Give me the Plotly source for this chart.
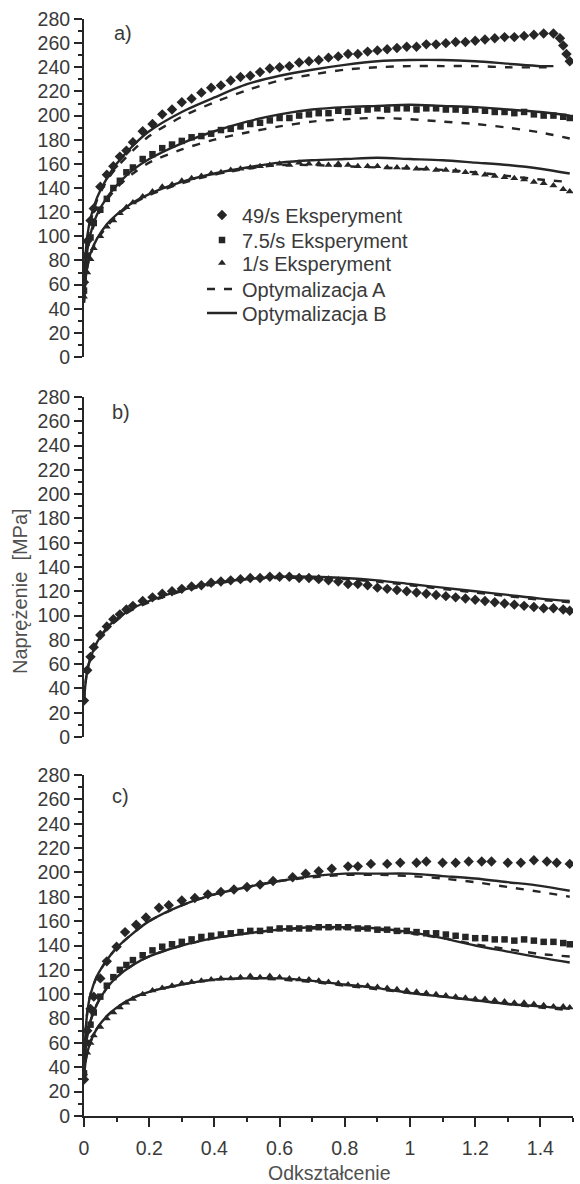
import plotly.graph_objects as go

# ---------------------------------------------------------------- data
# strain grid shared by most experimental series
STRAIN_EXP = [0.0, 0.01, 0.02, 0.03, 0.05, 0.07, 0.09, 0.11, 0.13, 0.15,
              0.18, 0.21, 0.24, 0.27, 0.30, 0.33, 0.36, 0.39, 0.42, 0.45,
              0.48, 0.51, 0.54, 0.57, 0.60, 0.63, 0.66, 0.69, 0.72, 0.75,
              0.78, 0.81, 0.84, 0.87, 0.90, 0.93, 0.96, 0.99, 1.02, 1.05,
              1.08, 1.11, 1.14, 1.17, 1.20, 1.23, 1.26, 1.29, 1.32, 1.35,
              1.38, 1.41, 1.44, 1.47, 1.49]

# strain grid of the model curves
STRAIN_FIT = [0.0, 0.005, 0.01, 0.02, 0.04, 0.07, 0.1, 0.15, 0.2, 0.3, 0.4,
              0.5, 0.6, 0.7, 0.8, 0.9, 1.0, 1.1, 1.2, 1.3, 1.4, 1.49]
STRAIN_FIT_A49 = [0.0, 0.005, 0.01, 0.02, 0.04, 0.07, 0.1, 0.15, 0.2, 0.3, 0.4,
                  0.5, 0.6, 0.7, 0.8, 0.9, 1.0, 1.1, 1.2, 1.3, 1.4, 1.44]

# panel a)
STRAIN_A49_EXP = [0.0, 0.01, 0.02, 0.03, 0.05, 0.07, 0.09, 0.11, 0.13, 0.15,
                  0.18, 0.21, 0.24, 0.27, 0.30, 0.33, 0.36, 0.39, 0.42, 0.45,
                  0.48, 0.51, 0.54, 0.57, 0.60, 0.63, 0.66, 0.69, 0.72, 0.75,
                  0.78, 0.81, 0.84, 0.87, 0.90, 0.93, 0.96, 0.99, 1.02, 1.05,
                  1.08, 1.11, 1.14, 1.17, 1.20, 1.23, 1.26, 1.29, 1.32, 1.35,
                  1.38, 1.41, 1.44, 1.46, 1.47, 1.48, 1.49]
A_49_EXP = [62, 96, 113, 123, 141, 151, 158, 166, 171, 178,
            187, 193, 201, 205, 211, 214, 219, 223, 225, 229,
            232, 233, 236, 239, 240, 241, 244, 245, 246, 248,
            249, 251, 251, 253, 254, 255, 256, 257, 257, 259,
            259, 260, 261, 261, 262, 263, 264, 265, 265, 266,
            267, 268, 268, 264, 258, 251, 245]
A_75_EXP = [55, 84, 99, 111, 122, 131, 140, 146, 153, 157,
            164, 168, 173, 176, 179, 182, 183, 185, 188, 189,
            191, 193, 194, 196, 198, 198, 200, 201, 202, 202,
            204, 203, 204, 205, 206, 205, 206, 206, 205, 206,
            206, 205, 205, 204, 205, 204, 203, 203, 202, 203,
            201, 200, 200, 199, 198]
A_1_EXP = [50, 70, 81, 90, 100, 108, 113, 119, 124, 128,
           133, 137, 141, 143, 146, 148, 150, 152, 153, 155,
           156, 157, 158, 159, 160, 159, 161, 160, 160, 159,
           160, 159, 158, 158, 158, 157, 157, 157, 156, 156,
           155, 155, 154, 153, 152, 151, 150, 149, 148, 147,
           145, 144, 142, 139, 137]
A_49_B = [55, 85, 100, 115, 132, 148, 160, 175, 187, 203, 215,
          226, 233, 238, 242, 245, 246, 246, 245, 243, 241, 241]
A_49_A = [55, 83, 97, 112, 130, 146, 157, 171, 183, 199, 211,
          221, 229, 234, 238, 240, 241, 241, 241, 240, 240, 240]
A_75_B = [50, 75, 88, 102, 118, 132, 142, 155, 164, 177, 187,
          195, 201, 205, 207, 208, 209, 208, 207, 205, 203, 200]
A_75_A = [50, 74, 86, 100, 116, 130, 140, 152, 161, 172, 180,
          186, 191, 195, 197, 198, 197, 195, 193, 190, 186, 181]
A_1_B = [45, 65, 75, 86, 98, 110, 118, 128, 135, 145, 152,
         157, 161, 163, 164, 165, 164, 163, 161, 159, 156, 152]
A_1_A = [45, 64, 74, 85, 97, 108, 117, 127, 134, 144, 151,
         156, 159, 159, 158, 157, 156, 155, 153, 150, 147, 145]

# panel b)
B_EXP = [30, 55, 66, 74, 84, 91, 97, 101, 105, 108,
         112, 115, 118, 120, 122, 124, 125, 127, 128, 129,
         130, 131, 131, 132, 132, 132, 131, 131, 130, 129,
         128, 126, 126, 125, 123, 122, 121, 120, 119, 118,
         117, 116, 115, 114, 113, 112, 111, 110, 109, 108,
         107, 106, 106, 105, 104]
B_B = [30, 45, 55, 65, 78, 90, 97, 106, 112, 121, 127,
       130, 132, 132, 131, 129, 126, 123, 120, 117, 114, 112]
B_A = [30, 45, 55, 65, 78, 89, 96, 105, 111, 120, 126,
       130, 131, 131, 130, 128, 125, 122, 119, 116, 113, 111]

# panel c)
STRAIN_C49_EXP = [0.0, 0.01, 0.02, 0.03, 0.05, 0.07, 0.1, 0.126, 0.16, 0.19,
                  0.23, 0.26, 0.3, 0.34, 0.38, 0.42, 0.46, 0.5, 0.54, 0.58,
                  0.64, 0.68, 0.72, 0.76, 0.81, 0.84, 0.88, 0.93, 0.97, 1.02,
                  1.05, 1.10, 1.14, 1.18, 1.22, 1.25, 1.30, 1.34, 1.38, 1.42,
                  1.45, 1.49]
C_49_EXP = [30, 70, 88, 98, 113, 127, 139, 151, 157, 163,
            171, 173, 177, 179, 182, 184, 186, 188, 190, 193,
            196, 199, 201, 203, 205, 205, 207, 207, 208, 208,
            209, 208, 208, 209, 209, 209, 208, 208, 210, 209,
            208, 207]
C_75_EXP = [35, 60, 75, 85, 98, 107, 114, 120, 124, 128,
            132, 136, 139, 141, 143, 145, 147, 148, 149, 150,
            151, 152, 152, 153, 154, 154, 154, 154, 155, 155,
            155, 155, 154, 154, 153, 153, 152, 152, 151, 150,
            150, 149, 148, 147, 146, 146, 145, 145, 144, 145,
            144, 143, 143, 142, 141]
C_1_EXP = [35, 52, 60, 66, 73, 80, 85, 89, 93, 96,
           100, 103, 105, 107, 109, 110, 111, 112, 113, 113,
           114, 115, 114, 115, 114, 113, 112, 112, 111, 110,
           109, 108, 107, 107, 106, 105, 104, 103, 102, 101,
           100, 99, 98, 97, 96, 96, 95, 94, 93, 93,
           92, 91, 90, 90, 89]
C_49_B = [40, 70, 85, 100, 115, 128, 138, 150, 160, 173, 182,
          188, 193, 197, 199, 199, 199, 197, 195, 192, 189, 185]
C_49_A = [40, 70, 85, 100, 115, 128, 138, 150, 160, 173, 182,
          188, 193, 196, 198, 198, 197, 195, 192, 188, 184, 180]
C_75_B = [35, 55, 66, 78, 92, 105, 114, 124, 131, 140, 146,
          150, 153, 155, 155, 154, 151, 146, 140, 135, 130, 126]
C_75_A = [35, 55, 66, 78, 92, 105, 114, 124, 131, 140, 146,
          150, 153, 154, 154, 153, 150, 146, 141, 137, 133, 131]
C_1_B = [30, 45, 52, 61, 72, 82, 89, 97, 102, 108, 112,
         113, 113, 111, 108, 105, 101, 98, 95, 92, 90, 88]
C_1_A = [30, 45, 52, 61, 72, 82, 89, 97, 102, 108, 112,
         113, 112, 110, 107, 104, 101, 98, 95, 92, 89, 87]

X_TICKS = [0, 0.2, 0.4, 0.6, 0.8, 1.0, 1.2, 1.4]
X_TICK_TEXT = ["0", "0.2", "0.4", "0.6", "0.8", "1", "1.2", "1.4"]

LEGEND_NAMES = ["49/s Eksperyment", "7.5/s Eksperyment", "1/s Eksperyment",
                "Optymalizacja A", "Optymalizacja B"]

# ---------------------------------------------------------------- style
INK = "#262626"
TEXT = "#3a3a3a"
FONT = "Liberation Sans, Arial, sans-serif"
SYMBOLS = {"49": ("diamond", 8), "75": ("square", 6.5), "1": ("triangle-up", 7)}

# one small legend box per entry, so each row sits at its own height
LEGEND_ROWS = {"49": ("legend", 215), "75": ("legend2", 240), "1": ("legend3", 263),
               "A": ("legend4", 289), "B": ("legend5", 313)}

fig = go.Figure()


def exp_trace(x, y, rate, axis, legend_name=None):
    sym, size = SYMBOLS[rate]
    fig.add_trace(go.Scatter(
        x=x, y=y, mode="markers", xaxis=axis[0], yaxis=axis[1],
        marker=dict(symbol=sym, size=size, color=INK, line=dict(width=0)),
        name=legend_name or "", showlegend=legend_name is not None,
        legend=LEGEND_ROWS[rate][0],
    ))


def fit_trace(x, y, model, axis, legend_name=None):
    fig.add_trace(go.Scatter(
        x=x, y=y, mode="lines", xaxis=axis[0], yaxis=axis[1],
        line=dict(color=INK, width=2.4, shape="spline", smoothing=0.8,
                  dash="8px,9px" if model == "A" else "solid"),
        name=legend_name or "", showlegend=legend_name is not None,
        legend=LEGEND_ROWS[model][0],
    ))


AX_A = ("x3", "y3")
AX_B = ("x2", "y2")
AX_C = ("x", "y")

# panel a)
fit_trace(STRAIN_FIT_A49, A_49_A, "A", AX_A, LEGEND_NAMES[3])
fit_trace(STRAIN_FIT_A49, A_49_B, "B", AX_A, LEGEND_NAMES[4])
fit_trace(STRAIN_FIT, A_75_A, "A", AX_A)
fit_trace(STRAIN_FIT, A_75_B, "B", AX_A)
fit_trace(STRAIN_FIT, A_1_A, "A", AX_A)
fit_trace(STRAIN_FIT, A_1_B, "B", AX_A)
exp_trace(STRAIN_A49_EXP, A_49_EXP, "49", AX_A, LEGEND_NAMES[0])
exp_trace(STRAIN_EXP, A_75_EXP, "75", AX_A, LEGEND_NAMES[1])
exp_trace(STRAIN_EXP, A_1_EXP, "1", AX_A, LEGEND_NAMES[2])

# panel b)
fit_trace(STRAIN_FIT, B_A, "A", AX_B)
fit_trace(STRAIN_FIT, B_B, "B", AX_B)
exp_trace(STRAIN_EXP, B_EXP, "49", AX_B)

# panel c)
fit_trace(STRAIN_FIT, C_49_A, "A", AX_C)
fit_trace(STRAIN_FIT, C_49_B, "B", AX_C)
fit_trace(STRAIN_FIT, C_75_A, "A", AX_C)
fit_trace(STRAIN_FIT, C_75_B, "B", AX_C)
fit_trace(STRAIN_FIT, C_1_A, "A", AX_C)
fit_trace(STRAIN_FIT, C_1_B, "B", AX_C)
exp_trace(STRAIN_C49_EXP, C_49_EXP, "49", AX_C)
exp_trace(STRAIN_EXP, C_75_EXP, "75", AX_C)
exp_trace(STRAIN_EXP, C_1_EXP, "1", AX_C)

# ---------------------------------------------------------------- axes
H_PLOT = 1184 - 19 - 68
W_PLOT = 580 - 84 - 7


def frac(px):
    return (1116 - px) / H_PLOT


y_common = dict(
    range=[0, 280], dtick=20, tick0=0, showgrid=False, zeroline=False,
    showline=True, linecolor=INK, linewidth=2,
    ticks="outside", ticklen=8, tickwidth=2, tickcolor=INK,
    minor=dict(dtick=10, ticks="outside", ticklen=4, tickwidth=1.5, tickcolor=INK),
    tickfont=dict(family=FONT, size=19.5, color=TEXT),
)
x_hidden = dict(range=[0, 1.5], visible=False, domain=[0, 1])

layout = dict(
    width=580, height=1184, autosize=False,
    margin=dict(l=84, r=7, t=19, b=68),
    paper_bgcolor="white", plot_bgcolor="white",
    font=dict(family=FONT, color=TEXT),
    xaxis=dict(
        range=[0, 1.5], domain=[0, 1], anchor="y", showgrid=False, zeroline=False,
        showline=True, linecolor=INK, linewidth=2,
        tickvals=X_TICKS, ticktext=X_TICK_TEXT,
        ticks="outside", ticklen=9, tickwidth=2, tickcolor=INK,
        minor=dict(dtick=0.1, tick0=0, ticks="outside", ticklen=4,
                   tickwidth=1.5, tickcolor=INK),
        tickfont=dict(family=FONT, size=19.5, color=TEXT),
        ticklabelstandoff=5,
    ),
    xaxis2=dict(anchor="y2", **x_hidden),
    xaxis3=dict(anchor="y3", **x_hidden),
    yaxis=dict(domain=[0, frac(775)], anchor="x", **y_common),
    yaxis2=dict(domain=[frac(737), frac(397)], anchor="x2", **y_common),
    yaxis3=dict(domain=[frac(357), 1.0], anchor="x3", **y_common),
    showlegend=True,
)
for key, row_y in LEGEND_ROWS.values():
    layout[key] = dict(
        x=(202 - 84) / W_PLOT, y=frac(row_y), xanchor="left", yanchor="middle",
        bgcolor="rgba(0,0,0,0)", borderwidth=0, itemwidth=30,
        font=dict(family=FONT, size=20, color=TEXT),
    )
fig.update_layout(**layout)

annotations = [
    dict(text="a)", x=(112 - 84) / W_PLOT, y=frac(33)),
    dict(text="b)", x=(110 - 84) / W_PLOT, y=frac(412)),
    dict(text="c)", x=(110 - 84) / W_PLOT, y=frac(796)),
]
for ann in annotations:
    fig.add_annotation(xref="paper", yref="paper", xanchor="left", yanchor="middle",
                       showarrow=False, font=dict(family=FONT, size=20, color=TEXT),
                       **ann)

fig.add_annotation(text="Naprężenie  [MPa]", xref="paper", yref="paper",
                   x=(20 - 84) / W_PLOT, y=frac(591), textangle=-90,
                   xanchor="center", yanchor="middle", showarrow=False,
                   font=dict(family=FONT, size=20, color="#505050"))
fig.add_annotation(text="Odkształcenie", xref="paper", yref="paper",
                   x=0.5, y=frac(1173), xanchor="center", yanchor="middle",
                   showarrow=False, font=dict(family=FONT, size=19.5, color="#505050"))

fig.write_html("out.html")
